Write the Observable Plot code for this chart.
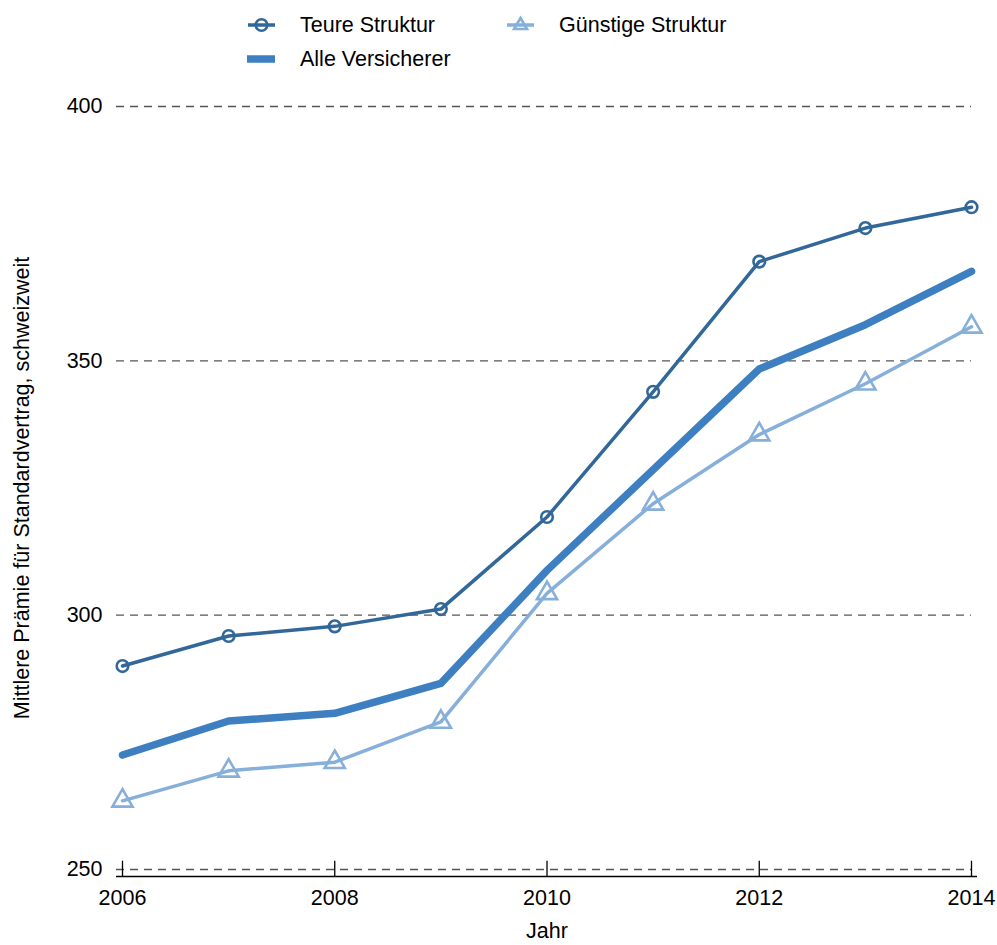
<!DOCTYPE html>
<html>
<head>
<meta charset="utf-8">
<script src="https://cdn.jsdelivr.net/npm/d3@7"></script>
<script src="https://cdn.jsdelivr.net/npm/@observablehq/plot@0.6"></script>
<style>
  body { margin: 0; background: #fff; font-family: "Liberation Sans", Arial, sans-serif; }
  #legend { position: relative; width: 997px; height: 80px; font-size: 21.5px; color: #000; }
  .item { position: absolute; display: flex; align-items: center; }
  .item svg { display: block; }
  .lbl { position: absolute; white-space: nowrap; line-height: 1; }
</style>
</head>
<body>
<div id="legend"></div>
<div id="chart"></div>
<script>
const years = [2006, 2007, 2008, 2009, 2010, 2011, 2012, 2013, 2014];
const teure = [290.0, 295.9, 297.8, 301.2, 319.3, 343.9, 369.5, 376.1, 380.2];
const alle = [272.5, 279.2, 280.7, 286.6, 308.8, 328.6, 348.4, 357.1, 367.6];
const guenstige = [263.5, 269.4, 271.1, 279.0, 304.3, 321.9, 335.5, 345.5, 356.7];
const seriesNames = ["Teure Struktur", "Alle Versicherer", "Günstige Struktur"];
const yTicks = [250, 300, 350, 400];
const xTicks = [2006, 2008, 2010, 2012, 2014];
const colors = {"Teure Struktur": "#316799", "Alle Versicherer": "#3e7fc1", "Günstige Struktur": "#86afd9"};

const rows = [];
years.forEach((yr, i) => {
  rows.push({year: yr, value: teure[i], series: seriesNames[0]});
  rows.push({year: yr, value: alle[i], series: seriesNames[1]});
  rows.push({year: yr, value: guenstige[i], series: seriesNames[2]});
});
const tRows = rows.filter(d => d.series === seriesNames[0]);
const aRows = rows.filter(d => d.series === seriesNames[1]);
const gRows = rows.filter(d => d.series === seriesNames[2]);

const font = '"Liberation Sans", Arial, sans-serif';
const fs = 21.5;

const chart = Plot.plot({
  width: 997,
  height: 865,
  marginLeft: 122,
  marginRight: 26,
  marginTop: 26,
  marginBottom: 76,
  style: {fontFamily: font, fontSize: fs + "px", color: "#000", background: "#fff"},
  x: {domain: [2006, 2014]},
  y: {domain: [250, 400]},
  marks: [
    Plot.ruleY(yTicks, {stroke: "#555", strokeWidth: 1.3, strokeDasharray: "8,6", insetLeft: -6}),
    Plot.ruleY([250], {stroke: "#000", strokeWidth: 1.3, dy: 7, insetLeft: -6, insetRight: -6}),
    Plot.ruleX(xTicks, {y1: 250, y2: 253, dy: 7, stroke: "#000", strokeWidth: 1.3}),
    Plot.axisX(xTicks, {tickSize: 0, tickPadding: 20, tickFormat: d => String(d), fontSize: fs, label: null}),
    Plot.axisY(yTicks, {tickSize: 0, tickPadding: 20, fontSize: fs, label: null}),
    Plot.line(tRows, {x: "year", y: "value", stroke: colors[seriesNames[0]], strokeWidth: 3.5}),
    Plot.dot(tRows, {x: "year", y: "value", stroke: colors[seriesNames[0]], strokeWidth: 2.6, r: 5.8, fill: "none"}),
    Plot.line(gRows, {x: "year", y: "value", stroke: colors[seriesNames[2]], strokeWidth: 3.5}),
    Plot.dot(gRows, {x: "year", y: "value", stroke: colors[seriesNames[2]], strokeWidth: 2.6, r: 7.5, symbol: "triangle", fill: "none"}),
    Plot.line(aRows, {x: "year", y: "value", stroke: colors[seriesNames[1]], strokeWidth: 7.5}),
    Plot.text(["Jahr"], {frameAnchor: "bottom", dy: 62, fontSize: fs, fill: "#000", lineAnchor: "middle"}),
    Plot.text(["Mittlere Prämie für Standardvertrag, schweizweit"], {frameAnchor: "left", dx: -100, rotate: -90, textAnchor: "middle", lineAnchor: "middle", fontSize: fs, fill: "#000"})
  ]
});
document.getElementById("chart").appendChild(chart);

// Legend (HTML above the SVG)
const legend = document.getElementById("legend");
const legendItems = [
  {name: seriesNames[0], x: 246, y: 25, kind: "circle"},
  {name: seriesNames[2], x: 505, y: 25, kind: "triangle"},
  {name: seriesNames[1], x: 246, y: 59, kind: "thick"}
];
legendItems.forEach(it => {
  const c = colors[it.name];
  let inner = "";
  if (it.kind === "circle") {
    inner = `<line x1="2" x2="29" y1="12" y2="12" stroke="${c}" stroke-width="3.5"/><circle cx="15.5" cy="12" r="5.8" fill="none" stroke="${c}" stroke-width="2.6"/>`;
  } else if (it.kind === "triangle") {
    inner = `<line x1="2" x2="29" y1="12" y2="12" stroke="${c}" stroke-width="3.5"/><path d="M15.5,5 L22,16 L9,16 Z" fill="none" stroke="${c}" stroke-width="2.6"/>`;
  } else {
    inner = `<line x1="1" x2="29" y1="12" y2="12" stroke="${c}" stroke-width="7.5"/>`;
  }
  const d = document.createElement("div");
  d.className = "item";
  d.style.left = it.x + "px";
  d.style.top = (it.y - 12) + "px";
  d.innerHTML = `<svg width="30" height="24">${inner}</svg>`;
  legend.appendChild(d);
  const t = document.createElement("div");
  t.className = "lbl";
  t.textContent = it.name;
  t.style.left = (it.x + 54) + "px";
  t.style.top = (it.y - 10.5) + "px";
  legend.appendChild(t);
});
</script>
</body>
</html>
